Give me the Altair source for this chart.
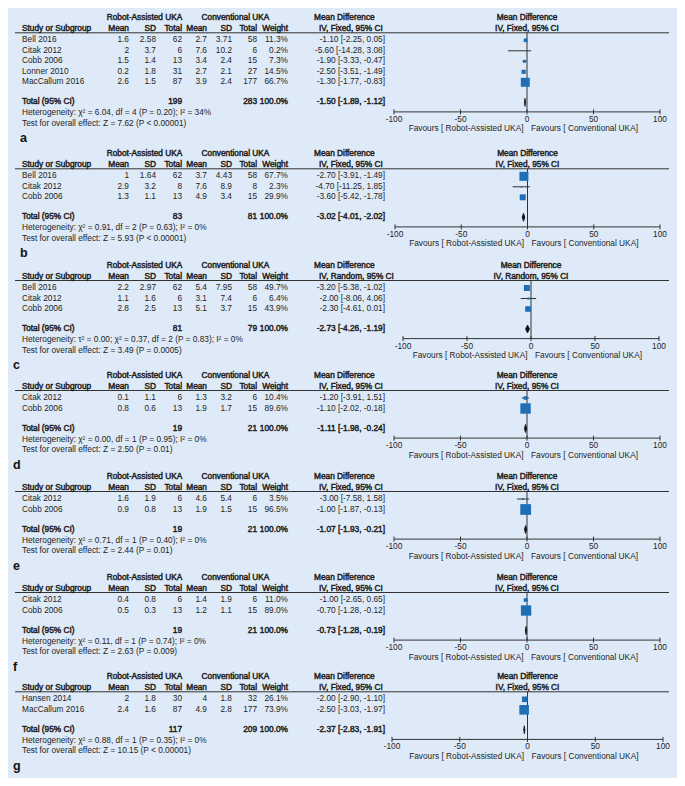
import altair as alt
import pandas as pd

# ---------------- data ----------------
STUDIES_A = ["Bell 2016", "Citak 2012", "Cobb 2006", "Lonner 2010", "MacCallum 2016"]
ROBOT_MEAN_A = [1.6, 2, 1.5, 0.2, 2.6]
ROBOT_SD_A = [2.58, 3.7, 1.4, 1.8, 1.5]
ROBOT_N_A = [62, 6, 13, 31, 87]
CONV_MEAN_A = [2.7, 7.6, 3.4, 2.7, 3.9]
CONV_SD_A = [3.71, 10.2, 2.4, 2.1, 2.4]
CONV_N_A = [58, 6, 15, 27, 177]
WEIGHT_A = [11.3, 0.2, 7.3, 14.5, 66.7]
MD_A = [-1.10, -5.60, -1.90, -2.50, -1.30]
LO_A = [-2.25, -14.28, -3.33, -3.51, -1.77]
HI_A = [0.05, 3.08, -0.47, -1.49, -0.83]
TOTAL_A = [199, 283, -1.50, -1.89, -1.12]
HET_A = "Heterogeneity: χ² = 6.04, df = 4 (P = 0.20); I² = 34%"
TEST_A = "Test for overall effect: Z = 7.62 (P < 0.00001)"

STUDIES_B = ["Bell 2016", "Citak 2012", "Cobb 2006"]
ROBOT_MEAN_B = [1, 2.9, 1.3]
ROBOT_SD_B = [1.64, 3.2, 1.1]
ROBOT_N_B = [62, 8, 13]
CONV_MEAN_B = [3.7, 7.6, 4.9]
CONV_SD_B = [4.43, 8.9, 3.4]
CONV_N_B = [58, 8, 15]
WEIGHT_B = [67.7, 2.3, 29.9]
MD_B = [-2.70, -4.70, -3.60]
LO_B = [-3.91, -11.25, -5.42]
HI_B = [-1.49, 1.85, -1.78]
TOTAL_B = [83, 81, -3.02, -4.01, -2.02]
HET_B = "Heterogeneity: χ² = 0.91, df = 2 (P = 0.63); I² = 0%"
TEST_B = "Test for overall effect: Z = 5.93 (P < 0.00001)"

STUDIES_C = ["Bell 2016", "Citak 2012", "Cobb 2006"]
ROBOT_MEAN_C = [2.2, 1.1, 2.8]
ROBOT_SD_C = [2.97, 1.6, 2.5]
ROBOT_N_C = [62, 6, 13]
CONV_MEAN_C = [5.4, 3.1, 5.1]
CONV_SD_C = [7.95, 7.4, 3.7]
CONV_N_C = [58, 6, 15]
WEIGHT_C = [49.7, 6.4, 43.9]
MD_C = [-3.20, -2.00, -2.30]
LO_C = [-5.38, -8.06, -4.61]
HI_C = [-1.02, 4.06, 0.01]
TOTAL_C = [81, 79, -2.73, -4.26, -1.19]
HET_C = "Heterogeneity: τ² = 0.00; χ² = 0.37, df = 2 (P = 0.83); I² = 0%"
TEST_C = "Test for overall effect: Z = 3.49 (P = 0.0005)"

STUDIES_D = ["Citak 2012", "Cobb 2006"]
ROBOT_MEAN_D = [0.1, 0.8]
ROBOT_SD_D = [1.1, 0.6]
ROBOT_N_D = [6, 13]
CONV_MEAN_D = [1.3, 1.9]
CONV_SD_D = [3.2, 1.7]
CONV_N_D = [6, 15]
WEIGHT_D = [10.4, 89.6]
MD_D = [-1.20, -1.10]
LO_D = [-3.91, -2.02]
HI_D = [1.51, -0.18]
TOTAL_D = [19, 21, -1.11, -1.98, -0.24]
HET_D = "Heterogeneity: χ² = 0.00, df = 1 (P = 0.95); I² = 0%"
TEST_D = "Test for overall effect: Z = 2.50 (P = 0.01)"

STUDIES_E = ["Citak 2012", "Cobb 2006"]
ROBOT_MEAN_E = [1.6, 0.9]
ROBOT_SD_E = [1.9, 0.8]
ROBOT_N_E = [6, 13]
CONV_MEAN_E = [4.6, 1.9]
CONV_SD_E = [5.4, 1.5]
CONV_N_E = [6, 15]
WEIGHT_E = [3.5, 96.5]
MD_E = [-3.00, -1.00]
LO_E = [-7.58, -1.87]
HI_E = [1.58, -0.13]
TOTAL_E = [19, 21, -1.07, -1.93, -0.21]
HET_E = "Heterogeneity: χ² = 0.71, df = 1 (P = 0.40); I² = 0%"
TEST_E = "Test for overall effect: Z = 2.44 (P = 0.01)"

STUDIES_F = ["Citak 2012", "Cobb 2006"]
ROBOT_MEAN_F = [0.4, 0.5]
ROBOT_SD_F = [0.8, 0.3]
ROBOT_N_F = [6, 13]
CONV_MEAN_F = [1.4, 1.2]
CONV_SD_F = [1.9, 1.1]
CONV_N_F = [6, 15]
WEIGHT_F = [11.0, 89.0]
MD_F = [-1.00, -0.70]
LO_F = [-2.65, -1.28]
HI_F = [0.65, -0.12]
TOTAL_F = [19, 21, -0.73, -1.28, -0.19]
HET_F = "Heterogeneity: χ² = 0.11, df = 1 (P = 0.74); I² = 0%"
TEST_F = "Test for overall effect: Z = 2.63 (P = 0.009)"

STUDIES_G = ["Hansen 2014", "MacCallum 2016"]
ROBOT_MEAN_G = [2, 2.4]
ROBOT_SD_G = [1.8, 1.6]
ROBOT_N_G = [30, 87]
CONV_MEAN_G = [4, 4.9]
CONV_SD_G = [1.8, 2.8]
CONV_N_G = [32, 177]
WEIGHT_G = [26.1, 73.9]
MD_G = [-2.00, -2.50]
LO_G = [-2.90, -3.03]
HI_G = [-1.10, -1.97]
TOTAL_G = [117, 209, -2.37, -2.83, -1.91]
HET_G = "Heterogeneity: χ² = 0.88, df = 1 (P = 0.35); I² = 0%"
TEST_G = "Test for overall effect: Z = 10.15 (P < 0.00001)"

PANEL_LETTERS = ["a", "b", "c", "d", "e", "f", "g"]
METHODS = ["IV, Fixed, 95% CI", "IV, Fixed, 95% CI", "IV, Random, 95% CI",
           "IV, Fixed, 95% CI", "IV, Fixed, 95% CI", "IV, Fixed, 95% CI",
           "IV, Fixed, 95% CI"]
TICKS = [-100, -50, 0, 50, 100]
TICK_LABELS = ["-100", "-50", "0", "50", "100"]
HEADER2 = ["Mean", "SD", "Total", "Mean", "SD", "Total", "Weight"]
FAV_LEFT = "Favours [ Robot-Assisted UKA]"
FAV_RIGHT = "Favours [ Conventional UKA]"

# ---------------- style / layout ----------------
FONT = "Liberation Sans"
FS = 8.3
TXT = "#1e1e1e"
LINE = "#333333"
BLUE = "#1f6fb6"
BG = "#deeaf7"
W, H = 669, 770
BOLD = dict(fontWeight="normal", stroke=TXT, strokeWidth=0.45)

X_NAME = 14
COLS = [121, 148, 174, 199, 224, 249, 280]
X_MD = 377
X_RHDR, X_CHDR = 136.5, 227.5
X_MDHDR, X_IVHDR = 306, 311
X_LINE0, X_LINE1 = 7, 661

PANEL_TOP = [18.3, 154.3, 266, 376, 477, 578, 677.3]   # page y of first header row
FOREST_RANGE = [[386, 652], [387, 652], [395, 651], [386, 652],
                [386, 652], [386, 652], [384, 655]]
SQ_FACTOR = [1.2, 1.2, 0.72, 1.2, 1.2, 1.2, 1.25]
LETTER_X = [12, 12, 5, 5, 5, 5, 5]

panels = [
    (STUDIES_A, ROBOT_MEAN_A, ROBOT_SD_A, ROBOT_N_A, CONV_MEAN_A, CONV_SD_A, CONV_N_A,
     WEIGHT_A, MD_A, LO_A, HI_A, TOTAL_A, HET_A, TEST_A),
    (STUDIES_B, ROBOT_MEAN_B, ROBOT_SD_B, ROBOT_N_B, CONV_MEAN_B, CONV_SD_B, CONV_N_B,
     WEIGHT_B, MD_B, LO_B, HI_B, TOTAL_B, HET_B, TEST_B),
    (STUDIES_C, ROBOT_MEAN_C, ROBOT_SD_C, ROBOT_N_C, CONV_MEAN_C, CONV_SD_C, CONV_N_C,
     WEIGHT_C, MD_C, LO_C, HI_C, TOTAL_C, HET_C, TEST_C),
    (STUDIES_D, ROBOT_MEAN_D, ROBOT_SD_D, ROBOT_N_D, CONV_MEAN_D, CONV_SD_D, CONV_N_D,
     WEIGHT_D, MD_D, LO_D, HI_D, TOTAL_D, HET_D, TEST_D),
    (STUDIES_E, ROBOT_MEAN_E, ROBOT_SD_E, ROBOT_N_E, CONV_MEAN_E, CONV_SD_E, CONV_N_E,
     WEIGHT_E, MD_E, LO_E, HI_E, TOTAL_E, HET_E, TEST_E),
    (STUDIES_F, ROBOT_MEAN_F, ROBOT_SD_F, ROBOT_N_F, CONV_MEAN_F, CONV_SD_F, CONV_N_F,
     WEIGHT_F, MD_F, LO_F, HI_F, TOTAL_F, HET_F, TEST_F),
    (STUDIES_G, ROBOT_MEAN_G, ROBOT_SD_G, ROBOT_N_G, CONV_MEAN_G, CONV_SD_G, CONV_N_G,
     WEIGHT_G, MD_G, LO_G, HI_G, TOTAL_G, HET_G, TEST_G),
]


def fmt(v):
    return f"{v:g}"


def ci_text(m, lo, hi):
    return f"{m:.2f} [{lo:.2f}, {hi:.2f}]"


left_n, left_b, right_n, right_b, center_b, letters, hlines = [], [], [], [], [], [], []
forest_layers = []

PX = alt.X("x:Q", scale=None, axis=None)
PY = alt.Y("y:Q", scale=None, axis=None)

for k, p in enumerate(panels):
    (st, rm, rsd, rn, cm, csd, cn, w, md, lo, hi, tot, het, test) = p
    h1 = PANEL_TOP[k] - 8
    h2 = h1 + 11
    ly = h1 + 14.5
    ys = [h1 + 22 + 10.5 * i for i in range(len(st))]
    yt = ys[-1] + 20
    yhet = yt + 11
    ytest = yhet + 10.5
    ylab = ytest + 14.5
    yax = yt + 9.6

    center_b += [dict(x=X_RHDR, y=h1, t="Robot-Assisted UKA"),
                 dict(x=X_CHDR, y=h1, t="Conventional UKA")]
    left_b += [dict(x=X_MDHDR, y=h1, t="Mean Difference"),
               dict(x=X_NAME, y=h2, t="Study or Subgroup"),
               dict(x=X_IVHDR, y=h2, t=METHODS[k]),
               dict(x=X_NAME, y=yt, t="Total (95% CI)")]
    for cx, lab in zip(COLS, HEADER2):
        right_b.append(dict(x=cx, y=h2, t=lab))
    hlines.append(dict(x=X_LINE0, x2=X_LINE1, y=ly))
    for i in range(len(st)):
        left_n.append(dict(x=X_NAME, y=ys[i], t=st[i]))
        vals = [fmt(rm[i]), fmt(rsd[i]), str(rn[i]), fmt(cm[i]), fmt(csd[i]),
                str(cn[i]), f"{w[i]:.1f}%"]
        for cx, v in zip(COLS, vals):
            right_n.append(dict(x=cx, y=ys[i], t=v))
        right_n.append(dict(x=X_MD, y=ys[i], t=ci_text(md[i], lo[i], hi[i])))
    right_b += [dict(x=COLS[2], y=yt, t=str(tot[0])),
                dict(x=COLS[5], y=yt, t=str(tot[1])),
                dict(x=COLS[6], y=yt, t="100.0%"),
                dict(x=X_MD, y=yt, t=ci_text(tot[2], tot[3], tot[4]))]
    left_n += [dict(x=X_NAME, y=yhet, t=het), dict(x=X_NAME, y=ytest, t=test)]
    letters.append(dict(x=LETTER_X[k], y=ylab, t=PANEL_LETTERS[k]))

    # ---- forest plot ----
    sc = alt.Scale(domain=[-100, 100], range=FOREST_RANGE[k], nice=False, zero=False)

    def FX(f, sc=sc):
        return alt.X(f + ":Q", scale=sc, axis=None)

    hdr = pd.DataFrame(dict(v=[0, 0], y=[h1, h2], t=["Mean Difference", METHODS[k]]))
    forest_layers.append(alt.Chart(hdr).mark_text(font=FONT, fontSize=FS, color=TXT,
                                                  align="center", baseline="middle", **BOLD)
                         .encode(x=FX("v"), y=PY, text="t:N"))
    tk = pd.DataFrame(dict(v=TICKS, t=TICK_LABELS, y=[yax + 8] * len(TICKS),
                           y1=[yax - 2.5] * len(TICKS), y2=[yax + 2.5] * len(TICKS)))
    forest_layers.append(alt.Chart(tk).mark_text(font=FONT, fontSize=FS, color=TXT,
                                                 align="center", baseline="middle")
                         .encode(x=FX("v"), y=PY, text="t:N"))
    forest_layers.append(alt.Chart(tk).mark_rule(color=LINE, strokeWidth=1)
                         .encode(x=FX("v"), y=alt.Y("y1:Q", scale=None, axis=None), y2="y2:Q"))
    fav = pd.DataFrame(dict(v=[0], y=[yax + 17.5], tl=[FAV_LEFT], tr=[FAV_RIGHT]))
    forest_layers.append(alt.Chart(fav).mark_text(font=FONT, fontSize=FS, color=TXT,
                                                  align="right", baseline="middle", dx=-3.5)
                         .encode(x=FX("v"), y=PY, text="tl:N"))
    forest_layers.append(alt.Chart(fav).mark_text(font=FONT, fontSize=FS, color=TXT,
                                                  align="left", baseline="middle", dx=4)
                         .encode(x=FX("v"), y=PY, text="tr:N"))
    axis_df = pd.DataFrame(dict(v=[TICKS[0]], v2=[TICKS[-1]], y=[yax]))
    forest_layers.append(alt.Chart(axis_df).mark_rule(color=LINE, strokeWidth=1)
                         .encode(x=FX("v"), x2="v2:Q", y=PY))
    zero_df = pd.DataFrame(dict(v=[0], y=[ly], y2=[yax]))
    forest_layers.append(alt.Chart(zero_df).mark_rule(color=LINE, strokeWidth=1)
                         .encode(x=FX("v"), y=PY, y2="y2:Q"))
    ci_df = pd.DataFrame(dict(lo=lo, hi=hi, y=ys))
    forest_layers.append(alt.Chart(ci_df).mark_rule(color=LINE, strokeWidth=1)
                         .encode(x=FX("lo"), x2="hi:Q", y=PY))
    sq_df = pd.DataFrame(dict(md=md, y=ys, s=[SQ_FACTOR[k] * wi for wi in w]))
    forest_layers.append(alt.Chart(sq_df).mark_point(shape="square", filled=True, opacity=1,
                                                     color=BLUE, strokeWidth=0)
                         .encode(x=FX("md"), y=PY,
                                 size=alt.Size("s:Q", scale=None, legend=None)))
    dm_df = pd.DataFrame(dict(v=[tot[3], tot[2], tot[4]],
                              y=[yt, yt - 4, yt], y2=[yt, yt + 4, yt]))
    forest_layers.append(alt.Chart(dm_df).mark_area(color="#111111", orient="vertical",
                                                    stroke="#111111", strokeWidth=0.8)
                         .encode(x=FX("v"), y=PY, y2="y2:Q"))


def text_layer(rows, align, bold=False, size=FS):
    extra = BOLD if bold else {}
    return alt.Chart(pd.DataFrame(rows)).mark_text(
        font=FONT, fontSize=size, color=TXT, align=align,
        baseline="middle", **extra).encode(x=PX, y=PY, text="t:N")


line_layer = alt.Chart(pd.DataFrame(hlines)).mark_rule(color=LINE, strokeWidth=1).encode(
    x=PX, x2="x2:Q", y=PY)

letter_layer = alt.Chart(pd.DataFrame(letters)).mark_text(
    font=FONT, fontSize=12.5, fontWeight="bold", color="#111111", align="left",
    baseline="middle").encode(x=PX, y=PY, text="t:N")

layers = [line_layer,
          text_layer(left_n, "left"),
          text_layer(left_b, "left", True),
          text_layer(right_n, "right"),
          text_layer(right_b, "right", True),
          text_layer(center_b, "center", True),
          letter_layer] + forest_layers

chart = alt.layer(*layers).resolve_scale(x="independent").properties(
    width=W, height=H, background=BG, padding=0,
    autosize=alt.AutoSizeParams(type="none")
).configure_view(stroke=None)

chart.save("out.html", embed_options={"renderer": "svg", "actions": False})
